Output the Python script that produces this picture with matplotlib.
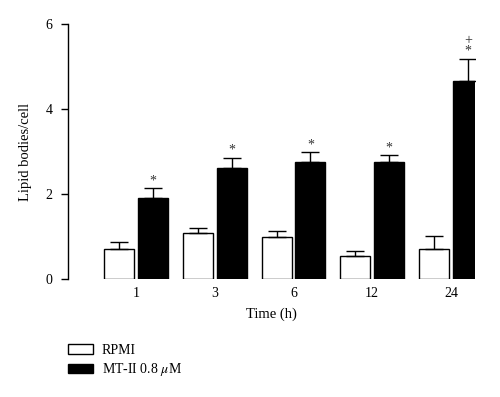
import numpy as np
import matplotlib.pyplot as plt
from matplotlib.patches import Patch

plt.rcParams['font.family'] = ['Liberation Serif', 'DejaVu Serif']
plt.rcParams['mathtext.fontset'] = 'stix'

times = ["1", "3", "6", "12", "24"]
rpmi = [0.70, 1.09, 1.00, 0.54, 0.70]
rpmi_err = [0.17, 0.10, 0.14, 0.12, 0.32]
mt2 = [1.91, 2.61, 2.76, 2.76, 4.67]
mt2_err = [0.23, 0.24, 0.23, 0.15, 0.51]
marks = ["*", "*", "*", "*", "+\n*"]

fig = plt.figure(figsize=(5, 3.97), dpi=100)
ax = fig.add_axes([0.136, 0.2972, 0.814, 0.6423])

x = np.arange(len(times))
w = 0.38
off = 0.215
err_kw = dict(ecolor='black', elinewidth=1.0, capsize=6.5, capthick=1.0)
ax.bar(x - off, rpmi, w, color='white', edgecolor='black', linewidth=1.0,
       yerr=[np.zeros(len(x)), rpmi_err], error_kw=err_kw, zorder=2)
ax.bar(x + off, mt2, w, color='black', edgecolor='black', linewidth=1.0,
       yerr=[np.zeros(len(x)), mt2_err], error_kw=err_kw, zorder=2)

for xi, v, e, m in zip(x, mt2, mt2_err, marks):
    ax.text(xi + off, v + e + 0.02, m, ha='center', va='bottom', fontsize=10,
            color='#333333', linespacing=0.75)

ax.set_xlim(-0.863, 4.305)
ax.set_ylim(0, 6)
ax.set_yticks([0, 2, 4, 6])
ax.set_xticks(x)
ax.set_xticklabels(times)
ax.tick_params(axis='x', length=0, pad=6, labelsize=10)
ax.tick_params(axis='y', length=5, width=1.0, pad=6, labelsize=10)
for s in ['top', 'right', 'bottom']:
    ax.spines[s].set_visible(False)
ax.spines['left'].set_linewidth(1.0)
ax.set_xlabel("Time (h)", fontsize=10.5, labelpad=5)
ax.set_ylabel("Lipid bodies/cell", fontsize=10.5, labelpad=10)

handles = [Patch(facecolor='white', edgecolor='black', linewidth=1.0),
           Patch(facecolor='black', edgecolor='black', linewidth=1.0)]
fig.legend(handles, ["RPMI", r"MT-II 0.8 $\mu$M"], loc='upper left',
           bbox_to_anchor=(0.136, 0.133), frameon=False, fontsize=10,
           handlelength=1.8, handleheight=0.72, handletextpad=0.65,
           labelspacing=0.3, borderpad=0, borderaxespad=0)

fig.savefig("out.png", dpi=100)
